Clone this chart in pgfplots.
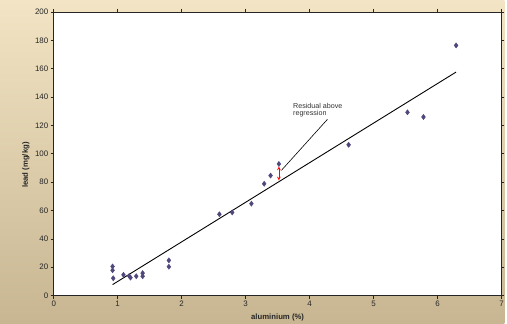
\documentclass[border=0pt]{standalone}
\usepackage{pgfplots}
\pgfplotsset{compat=1.18}
\usepackage{fontspec}
\setmainfont{Liberation Sans}
\definecolor{pts}{RGB}{78,72,125}
\definecolor{bgtop}{RGB}{242,228,196}
\definecolor{bgbot}{RGB}{200,182,146}
\begin{document}
\begin{tikzpicture}
\shade[top color=bgtop, bottom color=bgbot] (-54bp,-28bp) rectangle (453bp,297bp);
\begin{axis}[
  at={(0,0)}, anchor=south west,
  scale only axis, width=450bp, height=285bp,
  xmin=0, xmax=7, ymin=0, ymax=200,
  xtick={0,1,...,7}, ytick={0,20,...,200},
  axis background/.style={fill=white},
  axis line style={line width=0.8pt, black!85},
  tick align=outside, major tick length=3bp,
  tick style={black!85, line width=0.6pt},
  every tick label/.append style={font=\fontsize{8}{9}\selectfont, text=black!85},
  /pgf/number format/assume math mode=true,
  xticklabel style={yshift=1bp},
  yticklabel style={xshift=1bp},
  xlabel={\bfseries aluminium (\%)},
  ylabel={\bfseries lead (mg/kg)},
  label style={font=\fontsize{7.8}{8}\selectfont\bfseries, text=black!85},
  xlabel style={at={(axis description cs:0.5,-0.077)}, anchor=center, inner sep=0pt},
  ylabel style={at={(axis description cs:-0.062,0.46)}, rotate=0, anchor=center, inner sep=0pt},
  clip=false,
]
\addplot[only marks, mark=diamond*, mark size=2.6pt, color=pts] coordinates {
(0.92,20.5) (0.92,17.8) (0.93,12.2) (1.09,14.6) (1.18,13.8) (1.20,12.6)
(1.29,13.6) (1.39,15.8) (1.39,13.6) (1.80,24.8) (1.80,20.3)
(2.59,57.3) (2.79,58.6) (3.09,64.8) (3.29,78.8) (3.39,84.6) (3.52,92.8)
(4.61,106.3) (5.53,129.2) (5.78,125.9) (6.29,176.4)
};
\addplot[black, line width=0.9pt] coordinates {(0.92,7.7) (6.29,157.6)};
\addplot[red, line width=0.7pt, <->, >=stealth] coordinates {(3.52,91) (3.52,81.2)};
\addplot[black, line width=0.6pt] coordinates {(4.28,124.3) (3.56,88.3)};
\node[anchor=north west, align=left, font=\fontsize{7.2}{7.8}\selectfont, text=black!80, inner sep=0pt]
  at (axis cs:3.74,136) {Residual above\\regression};
\end{axis}
\end{tikzpicture}
\end{document}
